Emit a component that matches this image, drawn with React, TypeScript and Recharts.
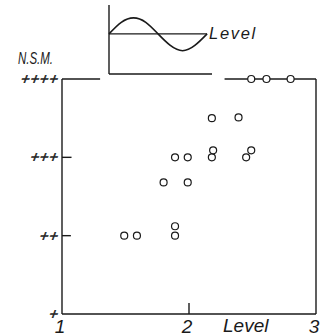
import { ScatterChart, Scatter, XAxis, YAxis, ReferenceLine, LineChart, Line } from 'recharts'

const ink = '#1a1a1a'
const font = '"Liberation Sans", Arial, sans-serif'

// main plot: level (x) vs N.S.M. grade (y)
const xTicks = [1, 2, 3]
const yTicks = [1, 2, 3, 4]
const yTickLabels = ['+', '++', '+++', '++++']

const levelX = [1.49, 1.59, 1.89, 1.89, 1.8, 1.89, 1.99, 1.99, 2.18, 2.19, 2.18, 2.39, 2.45, 2.49, 2.49, 2.61, 2.8]
const nsmY = [2.0, 2.0, 2.0, 2.12, 2.68, 3.0, 3.0, 2.68, 3.0, 3.09, 3.5, 3.51, 3.0, 3.09, 4, 4, 4]

// inset sketch: one wave around the level line
const waveT = [0, 0.125, 0.25, 0.375, 0.5, 0.625, 0.75, 0.875, 1.0]
const waveV = [0, 0.72, 1, 0.72, 0, -0.72, -1.05, -0.72, 0]

const points = levelX.map((x, i) => ({ x, y: nsmY[i] }))
const wave = waveT.map((t, i) => ({ t, v: waveV[i] }))

function XTick({ x, y, payload }: any) {
  return (
    <text x={x - 2} y={y} dy={11} textAnchor="middle" fontFamily={font} fontStyle="italic" fontSize={19} fill={ink}>
      {payload.value}
    </text>
  )
}

function YTick({ x, y, payload }: any) {
  const label = yTickLabels[yTicks.indexOf(payload.value)]
  // plus signs slanted like the hand lettering
  return (
    <g transform={`translate(${x + 3},${y + 5}) skewX(-20)`}>
      <text textAnchor="end" fontFamily={font} fontSize={15} letterSpacing={0.6} fill={ink} stroke={ink} strokeWidth={0.5}>
        {label}
      </text>
    </g>
  )
}

function Ring({ cx, cy }: any) {
  return <circle cx={cx} cy={cy} r={3.5} fill="#fff" stroke={ink} strokeWidth={1.2} />
}

const line = { stroke: ink, strokeWidth: 1.4 }

export default function App() {
  return (
    <div style={{ position: 'absolute', left: 0, top: 0, width: 325, height: 336, background: '#fff' }}>
      <div style={{ position: 'absolute', left: 0, top: 0 }}>
        <ScatterChart width={325} height={336} margin={{ top: 79, right: 9, bottom: 0, left: 18 }}>
          <XAxis
            type="number"
            dataKey="x"
            domain={[1, 3]}
            ticks={xTicks}
            height={22}
            axisLine={line}
            tickLine={false}
            tick={<XTick />}
          />
          <YAxis
            type="number"
            dataKey="y"
            domain={[1, 4]}
            ticks={yTicks}
            width={44}
            axisLine={line}
            tickLine={false}
            tick={<YTick />}
          />
          <ReferenceLine segment={[{ x: 1, y: 4 }, { x: 1.3, y: 4 }]} {...line} />
          <ReferenceLine segment={[{ x: 2.28, y: 4 }, { x: 3, y: 4 }]} {...line} />
          <ReferenceLine x={3} {...line} />
          <ReferenceLine segment={[{ x: 1, y: 3 }, { x: 1.075, y: 3 }]} {...line} />
          <ReferenceLine segment={[{ x: 1, y: 2 }, { x: 1.07, y: 2 }]} {...line} />
          <ReferenceLine segment={[{ x: 2, y: 1 }, { x: 2, y: 1.14 }]} {...line} />
          <Scatter data={points} shape={<Ring />} isAnimationActive={false} />
        </ScatterChart>
      </div>

      <div style={{ position: 'absolute', left: 107, top: 3 }}>
        <LineChart width={107} height={73} data={wave} margin={{ top: 2, right: 2, bottom: 2, left: 2 }}>
          <XAxis type="number" dataKey="t" domain={[0, 1.05]} hide height={0} />
          <YAxis type="number" domain={[-2.5, 1.8]} hide width={0} />
          <ReferenceLine x={0} {...line} />
          <ReferenceLine y={-2.5} {...line} />
          <ReferenceLine segment={[{ x: 0, y: 0 }, { x: 1.0, y: 0 }]} {...line} />
          <Line type="natural" dataKey="v" stroke={ink} strokeWidth={1.6} dot={false} isAnimationActive={false} />
        </LineChart>
      </div>

      <svg width={325} height={336} style={{ position: 'absolute', left: 0, top: 0, pointerEvents: 'none' }}>
        <text x={18} y={64} fontFamily={font} fontStyle="italic" fontSize={16} textLength={35} lengthAdjust="spacingAndGlyphs" fill={ink}>
          N.S.M.
        </text>
        <text x={209} y={39} fontFamily={font} fontStyle="italic" fontSize={16.5} letterSpacing={1.7} fill={ink}>
          Level
        </text>
        <text x={223} y={332} fontFamily={font} fontStyle="italic" fontSize={19} fill={ink}>
          Level
        </text>
      </svg>
    </div>
  )
}
